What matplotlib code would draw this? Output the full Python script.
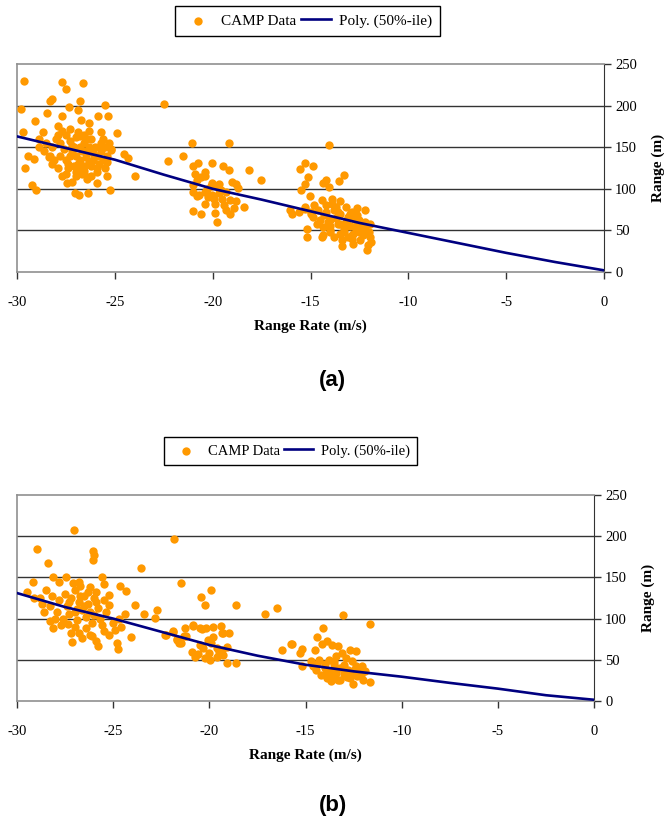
import matplotlib
matplotlib.use("Agg")
import matplotlib.pyplot as plt

plt.rcParams["axes.unicode_minus"] = False

# ---- panel (a) data: CAMP scatter (range rate m/s, range m)
a_rate = [
    -29.63, -27.72, -26.64, -27.48, -28.2, -28.3, -26.78, -29.8, -22.49, -25.49,
    -27.34, -26.9, -28.48, -29.1, -27.7, -25.85, -25.37, -26.73, -26.34, -27.92,
    -29.68, -28.66, -25.72, -24.9, -28.86, -29.42, -29.11, -29.6, -29.25, -29.05,
    -28.39, -28.23, -27.72, -27.46, -27.2, -27.04, -26.83, -26.36, -26.36, -25.9,
    -25.23, -25.42, -25.9, -25.5, -24.53, -24.34, -23.97, -25.4, -25.2, -25.8,
    -26.3,
    -28.0, -27.8, -27.5, -27.3, -27.0, -26.8, -26.6, -26.4, -26.2, -27.6,
    -27.2, -27.0, -26.8, -26.5, -26.3, -27.8, -28.2, -28.5, -27.4, -27.1,
    -26.9, -26.6, -26.2, -25.9, -25.7, -25.5, -25.3, -25.6, -26.0, -27.7,
    -27.3, -26.9, -26.6, -28.1, -27.9, -27.5, -27.0, -26.7, -26.4, -28.6,
    -28.9, -27.2, -26.1, -25.8, -25.4, -25.2,
    -27.1, -26.7, -26.3, -27.5, -26.9, -26.5, -27.3, -26.1, -25.7, -27.9,
    -26.6, -27.0, -26.2, -25.9, -27.4, -26.8, -28.3, -25.6,
    # middle cluster
    -21.04, -19.17, -22.28, -21.53, -20.99, -20.77, -20.05, -20.4, -19.46, -19.17,
    -18.15, -17.53, -20.8, -21.0, -20.06, -19.7, -19.0, -18.8, -18.7, -21.0,
    -20.8, -20.4, -20.06, -19.7, -19.3, -19.1, -18.8, -20.4, -19.9, -19.4,
    -18.9, -18.4, -21.0, -20.6, -19.9, -19.1, -19.8, -20.9, -20.6, -20.4,
    -19.75, -19.95, -20.25,
    -20.3, -19.6, -20.7, -19.5, -20.1, -19.3,
    # right cluster
    -14.04, -15.54, -15.28, -14.86, -15.11, -15.28, -15.49, -15.03, -14.35, -14.2,
    -14.05, -13.53, -13.29, -16.05, -15.96, -15.6, -15.3, -15.0, -15.2, -15.17,
    -14.4, -14.35, -13.41, -12.1, -12.06, -12.22, -12.6, -13.5, -14.4, -14.86,
    -14.69, -14.0, -13.15, -12.47, -11.96, -12.3, -12.82, -13.5, -14.0, -14.35,
    -11.96, -12.47, -12.82,
    -14.2, -13.8, -13.5, -13.2, -12.9, -12.6, -13.9, -14.6, -15.0, -14.0,
    -13.6, -13.0, -12.7, -13.3, -12.3, -13.8, -12.9, -14.3, -13.7, -13.1,
    -12.5, -14.8, -15.3, -12.2, -13.4, -12.0, -11.9,
    -14.1, -13.6, -13.2, -12.8, -12.4, -14.5, -13.9, -13.3, -12.9, -12.5,
    -14.2, -13.7, -13.0, -12.6, -13.5, -14.0, -12.2, -13.1,
]
a_range = [
    230, 228, 227, 220, 208, 205, 205, 196, 202, 201,
    198, 195, 191, 181, 188, 188, 188, 183, 179, 175,
    168, 168, 168, 167, 150, 140, 136, 125, 104, 99,
    138, 130, 116, 107, 108, 95, 92, 95, 114, 107,
    98, 115, 125, 125, 142, 137, 115, 132, 147, 150,
    170,
    160, 155, 165, 158, 162, 150, 155, 145, 160, 148,
    145, 140, 135, 138, 132, 140, 150, 155, 130, 128,
    125, 122, 127, 140, 145, 150, 155, 135, 150, 170,
    172, 168, 165, 135, 125, 118, 115, 118, 112, 145,
    160, 152, 143, 130, 140, 148,
    150, 145, 150, 135, 130, 160, 140, 135, 155, 165,
    128, 120, 115, 120, 125, 163, 140, 160,
    155, 155, 134, 139, 127, 131, 131, 120, 127, 123,
    123, 111, 110, 105, 107, 106, 108, 106, 101, 96,
    91, 96, 93, 95, 96, 87, 85, 82, 82, 81,
    77, 78, 73, 70, 71, 70, 60, 118, 114, 116,
    102, 88, 90,
    100, 98, 92, 88, 103, 75,
    153, 124, 131, 127, 114, 106, 98, 91, 107, 110,
    102, 109, 117, 75, 70, 72, 76, 72, 52, 42,
    42, 44, 31, 26, 33, 75, 77, 85, 87, 66,
    58, 62, 62, 58, 58, 50, 46, 46, 50, 54,
    42, 38, 34,
    80, 75, 70, 78, 72, 68, 88, 75, 70, 55,
    58, 55, 52, 48, 45, 42, 40, 68, 65, 66,
    62, 80, 78, 52, 38, 48, 36,
    60, 72, 60, 64, 55, 63, 82, 52, 45, 48,
    72, 78, 70, 58, 58, 48, 60, 42,
]

# ---- panel (b) data
b_rate = [
    -27.04, -28.98, -26.06, -26.0, -26.05, -28.4, -21.84, -23.53, -21.46, -19.91,
    -20.45, -20.21, -18.6, -17.09, -16.46, -29.17, -29.46, -28.11, -27.47, -26.8,
    -27.8, -25.6, -25.5, -24.64, -24.35, -25.2, -29.1, -28.3, -28.6, -28.11,
    -27.33, -27.16, -26.8, -26.6, -26.1, -25.77, -25.5, -24.8, -24.73, -24.09,
    -23.86, -23.4, -22.7, -22.85, -24.4, -24.6, -24.9,
    -27.5, -27.2, -27.0, -26.8, -26.5, -26.3, -26.0, -25.8, -26.6, -27.4,
    -27.8, -28.2, -28.5, -27.9, -27.6, -27.3, -26.9, -26.4, -26.1, -25.7,
    -25.4, -25.2, -26.2, -26.7, -27.1, -25.9, -28.7, -28.0, -27.0, -26.4,
    -25.6, -25.2, -25.0, -24.7, -27.7, -26.2, -25.9, -28.3, -28.8, -27.2,
    -26.9, -26.5, -26.2, -25.9, -27.3, -26.7, -26.0, -25.5, -27.0, -26.3,
    # middle cluster
    -16.24, -15.72, -22.3, -21.9, -21.26, -20.83, -20.4, -20.2, -19.39, -19.0,
    -19.35, -21.7, -21.6, -21.2, -20.92, -20.74, -20.22, -19.96, -19.62, -19.27,
    -19.1, -18.61, -20.05, -19.79, -19.62, -20.31, -20.48, -19.36, -19.1,
    -22.27, -21.9, -21.7, -21.5, -21.3, -20.85, -20.5, -19.8, -19.3,
    -20.0, -19.5, -20.6, -19.9,
    # right cluster
    -13.06, -11.64, -14.07, -14.38, -13.9, -14.15, -15.75, -15.2, -14.5, -13.6,
    -13.3, -12.7, -12.4, -15.3, -15.2, -14.6, -14.45, -13.9, -13.57, -13.2,
    -12.86, -12.51, -11.99, -11.9, -11.64, -12.07, -12.6,
    -13.8, -13.5, -13.2, -12.9, -14.3, -14.0, -12.8, -13.6, -12.3, -13.0,
    -14.2, -13.9, -12.7, -13.4, -13.1, -14.7, -12.5, -12.1, -13.3, -13.7,
    -13.4, -13.0, -12.6, -14.0, -13.7, -12.9, -12.4, -13.5, -14.4, -12.2,
]
b_range = [
    207, 184, 182, 177, 171, 167, 197, 162, 143, 135,
    126, 117, 117, 106, 113, 145, 132, 150, 150, 145,
    145, 151, 142, 139, 134, 129, 125, 115, 108, 88,
    94, 72, 83, 77, 79, 67, 85, 70, 63, 78,
    116, 106, 110, 101, 105, 90, 86,
    130, 125, 135, 120, 128, 118, 125, 113, 110, 115,
    122, 128, 135, 108, 100, 105, 98, 102, 95, 100,
    108, 117, 138, 140, 143, 132, 118, 100, 90, 88,
    92, 80, 95, 100, 92, 80, 73, 97, 125, 83,
    112, 115, 108, 120, 120, 128, 104, 122, 108, 132,
    62, 69, 80, 85, 88, 92, 87, 88, 91, 82,
    82, 74, 70, 79, 60, 53, 52, 50, 54, 56,
    46, 46, 74, 78, 64, 64, 68, 62, 66,
    80, 84, 75, 70, 79, 91, 89, 90, 83,
    58, 60, 57, 70,
    104, 93, 88, 78, 73, 69, 69, 63, 62, 68,
    67, 62, 61, 58, 42, 42, 38, 35, 31, 25,
    29, 21, 25, 36, 23, 42, 48,
    50, 45, 40, 52, 50, 45, 38, 38, 30, 33,
    32, 28, 28, 55, 58, 48, 38, 32, 26, 24,
    34, 44, 33, 40, 30, 35, 42, 48, 45, 38,
]

# ---- 50%-ile polynomial
fit_rate = [-30, -27.5, -25, -22.5, -20, -17.5, -15, -12.5, -10, -7.5, -5, -2.5, 0]
a_fit = [163, 149, 135, 117, 100, 87, 73, 59, 47, 35, 23, 12, 2]
b_fit = [131, 114, 100, 84, 68, 55, 44, 36, 29.5, 22, 15, 7, 1.5]

ORANGE = "#FF9900"
NAVY = "#000080"
SERIF = "Liberation Serif"

fig = plt.figure(figsize=(6.65, 8.22), dpi=100)


def panel(rect, rate, rng, fit, leg_center, leg_fs, tag, tag_y, ylpad):
    ax = fig.add_axes(rect)
    pts = ax.scatter(rate, rng, s=36, color=ORANGE, linewidths=0, zorder=3,
                     label="CAMP Data")
    ln, = ax.plot(fit_rate, fit, color=NAVY, lw=1.9, zorder=4,
                  label="Poly. (50%-ile)")
    ax.set_xlim(-30, 0)
    ax.set_ylim(0, 250)
    ax.set_xticks(range(-30, 1, 5))
    ax.set_yticks(range(0, 251, 50))
    ax.yaxis.tick_right()
    ax.yaxis.set_label_position("right")
    for y in (50, 100, 150, 200):
        ax.axhline(y, color="#333333", lw=1.0, zorder=1)
    for s in ("left", "top", "bottom"):
        ax.spines[s].set_color("#909090")
        ax.spines[s].set_linewidth(1.2)
    ax.spines["right"].set_color("#333333")
    ax.tick_params(axis="x", direction="out", length=5, width=1,
                   color="#333333", pad=12, labelsize=10.5)
    ax.tick_params(axis="y", direction="out", length=5, width=1,
                   color="#333333", pad=3, labelsize=10.5)
    for t in ax.get_xticklabels() + ax.get_yticklabels():
        t.set_fontfamily(SERIF)
    ax.set_xlabel("Range Rate (m/s)", fontfamily=SERIF, fontweight="bold",
                  fontsize=11, labelpad=8)
    ax.set_ylabel("Range (m)", fontfamily=SERIF, fontweight="bold",
                  fontsize=11, labelpad=ylpad)
    leg = ax.legend(handles=[pts, ln], loc="center", ncol=2,
                    bbox_to_anchor=leg_center, bbox_transform=fig.transFigure,
                    frameon=True, fancybox=False, edgecolor="black",
                    framealpha=1, handlelength=2.0, handletextpad=0.5,
                    columnspacing=0.3, borderpad=0.5,
                    prop={"family": SERIF, "size": leg_fs})
    leg.get_frame().set_linewidth(1.0)
    fig.text(0.5, tag_y, tag, ha="center", va="center",
             fontfamily="Liberation Sans", fontweight="bold", fontsize=16)
    return ax


panel([0.0256, 0.6691, 0.8827, 0.2530], a_rate, a_range, a_fit,
      (0.462, 1 - 21 / 822), 11, "(a)", 1 - 380 / 822, 10)
panel([0.0256, 0.1472, 0.8677, 0.2506], b_rate, b_range, b_fit,
      (0.437, 1 - 451 / 822), 10.5, "(b)", 1 - 805 / 822, 10)

fig.savefig("out.png", dpi=100)
